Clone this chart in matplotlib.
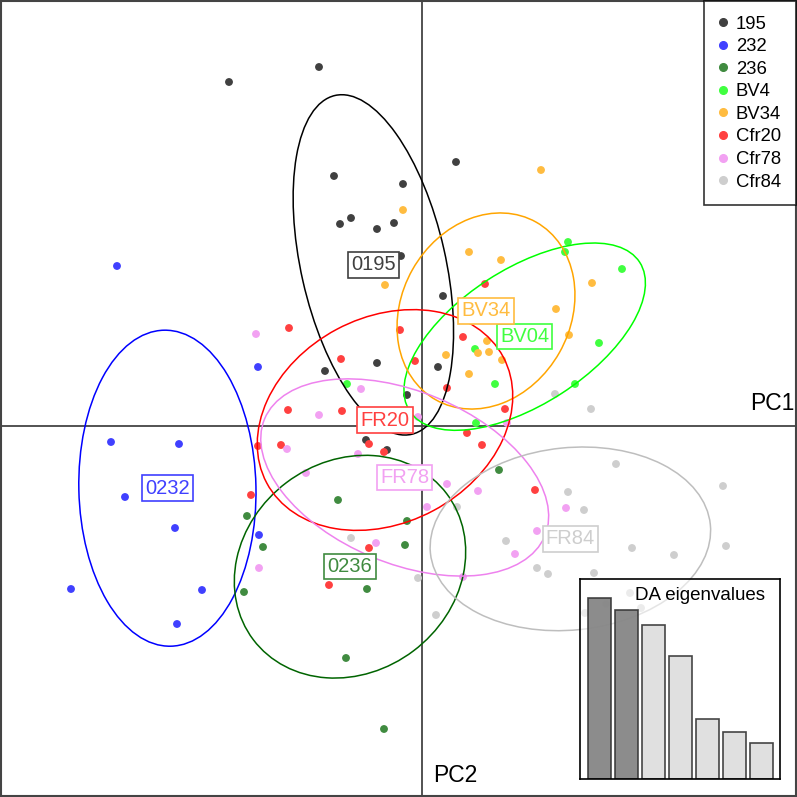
import numpy as np
import matplotlib
matplotlib.use("Agg")
import matplotlib.pyplot as plt
from matplotlib.patches import Ellipse
from matplotlib.lines import Line2D

plt.rcParams['font.family'] = ['Liberation Sans', 'DejaVu Sans']

# scores (LD1 right, LD2 down, picture units)
pop_names = ["195", "232", "236", "BV4", "BV34", "Cfr20", "Cfr78", "Cfr84"]
pop_labels = ["0195", "0232", "0236", "BV04", "BV34", "FR20", "FR78", "FR84"]
line_cols = ["#000000", "#0000FF", "#006400", "#00FF00", "#FFA500", "#FF0000", "#EE82EE", "#BEBEBE"]
dot_cols = ["#404040", "#4040FF", "#408B40", "#40FF40", "#FFBC40", "#FF4040", "#F2A1F2", "#CECECE"]

p195 = [(229, 82), (319, 67), (334, 176), (340, 224), (351, 218), (377, 229), (394, 223), (401, 256),
        (456, 162), (403, 184), (377, 363), (325, 371), (443, 296), (438, 367), (407, 395), (366, 440),
        (387, 450)]
p232 = [(117, 266), (258, 367), (111, 442), (179, 444), (125, 497), (175, 528), (71, 589), (202, 590),
        (177, 624), (259, 535)]
p236 = [(247, 516), (263, 547), (244, 592), (338, 500), (367, 589), (346, 658), (384, 729), (407, 521),
        (405, 545), (499, 470)]
pBV4 = [(568, 242), (565, 252), (622, 269), (599, 343), (475, 349), (495, 384), (575, 384), (347, 384),
        (476, 423)]
pBV34 = [(541, 170), (403, 210), (469, 252), (501, 260), (592, 283), (556, 309), (569, 335), (487, 341),
         (478, 353), (489, 352), (446, 355), (502, 360), (469, 374), (385, 285), (403, 426)]
pCfr20 = [(289, 328), (341, 359), (400, 330), (485, 284), (463, 337), (415, 361), (447, 388), (288, 410),
          (342, 411), (258, 446), (281, 445), (369, 444), (384, 452), (251, 495), (505, 409), (467, 433),
          (482, 445), (535, 490), (329, 585), (369, 548)]
pCfr78 = [(256, 334), (361, 389), (319, 415), (418, 417), (287, 449), (358, 454), (306, 473), (259, 568),
          (376, 543), (507, 423), (447, 484), (478, 491), (427, 507), (566, 508), (515, 554), (463, 577),
          (537, 531)]
pCfr84 = [(555, 394), (591, 409), (351, 538), (418, 578), (457, 507), (568, 492), (584, 510), (506, 541),
          (537, 568), (548, 574), (594, 573), (436, 615), (616, 464), (723, 486), (632, 548), (674, 555),
          (726, 546), (630, 593), (585, 613), (606, 604), (641, 608)]
groups = [p195, p232, p236, pBV4, pBV34, pCfr20, pCfr78, pCfr84]

eig_vals = [181, 169, 154, 123, 60, 47, 36]
eig_cols = ["#808080", "#808080", "#DDDDDD", "#DDDDDD", "#DDDDDD", "#DDDDDD", "#DDDDDD"]

origin_x, origin_y = 422, 426

fig = plt.figure(figsize=(7.97, 7.97), dpi=100)
ax = fig.add_axes([1 / 797, 1 / 797, 795 / 797, 795 / 797])
ax.set_xlim(1, 796)
ax.set_ylim(796, 1)
ax.set_xticks([])
ax.set_yticks([])
for s in ax.spines.values():
    s.set_linewidth(1.5)
    s.set_color("#444444")

ax.axvline(origin_x, color="#444444", lw=1.3, zorder=1)
ax.axhline(origin_y, color="#444444", lw=1.3, zorder=1)

for pts, lc, dc in zip(groups, line_cols, dot_cols):
    a = np.array(pts, dtype=float)
    ax.scatter(a[:, 0], a[:, 1], s=32, color=dc, edgecolors="none", zorder=3)

# ellipses from group covariance (cellipse = 1.5)
for pts, lc in zip(groups, line_cols):
    a = np.array(pts, dtype=float)
    c = a.mean(axis=0)
    cov = np.cov(a.T, bias=True)
    w, v = np.linalg.eigh(cov)
    ang = np.degrees(np.arctan2(v[1, 1], v[0, 1]))
    e = Ellipse(c, 2 * 1.5 * np.sqrt(w[1]), 2 * 1.5 * np.sqrt(w[0]), angle=ang,
                fill=False, edgecolor=lc, lw=1.1, zorder=4)
    ax.add_patch(e)

for pts, lab, dc in zip(groups, pop_labels, dot_cols):
    a = np.array(pts, dtype=float)
    c = a.mean(axis=0)
    ax.text(c[0], c[1], lab, color=dc, fontsize=14.5, ha="center", va="center", zorder=6,
            bbox=dict(boxstyle="square,pad=0.16", facecolor="white", edgecolor=dc, lw=1.2))

ax.text(794, 403, "PC1", fontsize=16.5, ha="right", va="center", zorder=6)
ax.text(433, 776, "PC2", fontsize=16.5, ha="left", va="center", zorder=6)

handles = [Line2D([], [], marker="o", ls="none", color=dc, markersize=5.5) for dc in dot_cols]
leg = ax.legend(handles, pop_names, loc="upper right", fontsize=13.3, frameon=True, fancybox=False,
                borderaxespad=0, handletextpad=0.45, labelspacing=0.3, borderpad=0.8,
                handlelength=0.5)
leg.get_frame().set_edgecolor("black")
leg.get_frame().set_linewidth(1.2)
leg.set_zorder(10)

# inset with the DA eigenvalues
ins = fig.add_axes([580 / 797, (797 - 779) / 797, 200 / 797, 200 / 797])
ins.patch.set_facecolor("white")
ins.patch.set_alpha(0.6)
ins.bar(np.arange(len(eig_vals)), eig_vals, width=0.85, color=eig_cols, edgecolor="#333333",
        lw=1.2, alpha=0.9)
ins.set_xlim(-0.72, 6.69)
ins.set_ylim(0, max(eig_vals) * 200 / 181)
ins.set_xticks([])
ins.set_yticks([])
for s in ins.spines.values():
    s.set_linewidth(1.2)
    s.set_color("black")
ins.text(0.6, 0.915, "DA eigenvalues", transform=ins.transAxes, fontsize=13.5, ha="center",
         va="center")

fig.savefig("out.png", dpi=100)
